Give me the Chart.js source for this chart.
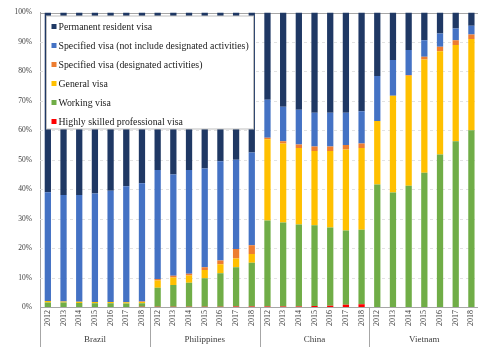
<!DOCTYPE html>
<html><head><meta charset="utf-8">
<script src="https://cdn.jsdelivr.net/npm/chart.js@4.4.1/dist/chart.umd.min.js"></script>
<style>
html,body{margin:0;padding:0;background:#fff;overflow:hidden;}
#wrap{position:relative;width:484px;height:347px;}
</style></head><body>
<div id="wrap"><canvas id="c" width="484" height="347"></canvas></div>
<script>
const groups = ['Brazil', 'Philippines', 'China', 'Vietnam'];
const years = ['2012', '2013', '2014', '2015', '2016', '2017', '2018'];
const categories = groups.flatMap(() => years);

// values in % of each bar, order: Brazil(2012-2018), Philippines, China, Vietnam
const highlySkilled = [0,0,0,0,0,0,0.1,  0.1,0.1,0.1,0.1,0.1,0.2,0.2,  0.2,0.2,0.2,0.3,0.4,0.8,0.9,  0,0,0,0,0,0,0];
const workingVisa   = [1.5,1.5,1.4,1.3,1.3,1.2,1.2,  6.4,7.4,8.1,9.7,11.4,13.3,14.8,  29.2,28.5,27.8,27.5,26.6,25.2,25.3,  41.6,38.9,41.2,45.6,51.8,56.3,60];
const generalVisa   = [0.5,0.4,0.4,0.4,0.4,0.4,0.4,  2.5,2.5,2.5,2.8,3,3,3,  27.6,26.8,26,25.2,26,27.5,27.8,  21.6,32.8,37.3,38.4,35,32.7,31];
const specDesig     = [0,0,0,0,0,0,0.2,  0.5,0.6,0.6,0.9,1.3,3.2,3,  0.5,0.8,1.2,1.5,1.5,1.5,1.5,  0,0,0.3,1,1.6,1.6,1.5];
const specOther     = [37,36.1,36.2,36.8,37.8,39.4,40.1,  37,34.4,35.2,33.5,33.7,30.3,31.5,  12.9,11.7,11.8,11.5,11.5,11,11,  15.2,12.2,8.5,5.6,4.5,4,3];
const permanent     = [61,62,62,61.5,60.5,59,58,  53.5,55,53.5,53,50.5,50,47.5,  29.6,32,33,34,34,34,33.5,  21.6,16.1,12.7,9.4,7.1,5.4,4.5];
const yTicks = [0,10,20,30,40,50,60,70,80,90,100];

const series = [
  {label:'Highly skilled professional visa', data: highlySkilled, color:'#ff0000'},
  {label:'Working visa', data: workingVisa, color:'#70ad47'},
  {label:'General visa', data: generalVisa, color:'#ffc000'},
  {label:'Specified visa (designated activities)', data: specDesig, color:'#ed7d31'},
  {label:'Specified visa (not include designated activities)', data: specOther, color:'#4472c4'},
  {label:'Permanent resident visa', data: permanent, color:'#1f3864'}
];

const FONT = '"Liberation Serif", "Times New Roman", serif';
Chart.defaults.font.family = FONT;
Chart.defaults.color = '#404040';

const overlay = {
  id: 'overlay',
  beforeDatasetsDraw(chart) {
    const {ctx, chartArea: a, scales: {y}} = chart;
    ctx.save();
    ctx.lineWidth = 1;
    yTicks.forEach(v => {
      const py = Math.round(y.getPixelForValue(v)) + 0.5;
      if (v === 0) return;
      if (v === 100) { ctx.strokeStyle = '#a6a6a6'; ctx.setLineDash([]); }
      else { ctx.strokeStyle = '#e2e2e2'; ctx.setLineDash([3, 3]); }
      ctx.beginPath(); ctx.moveTo(a.left, py); ctx.lineTo(a.right, py); ctx.stroke();
    });
    ctx.restore();
  },
  afterDatasetsDraw(chart) {
    const {ctx, chartArea: a, scales: {x}} = chart;
    const step = x.getPixelForValue(1) - x.getPixelForValue(0);
    ctx.save();
    ctx.strokeStyle = '#a6a6a6'; ctx.lineWidth = 1;
    for (let g = 0; g < groups.length; g++) {
      const px = Math.round(x.getPixelForValue(g * years.length) - step / 2) + 0.5;
      ctx.beginPath(); ctx.moveTo(px, a.bottom); ctx.lineTo(px, chart.height); ctx.stroke();
    }
    // legend box inside plot area
    const bx = a.left + 6.5, by = a.top + 3.5, bw = 207, bh = 113;
    ctx.fillStyle = '#ffffff';
    ctx.fillRect(bx, by, bw, bh);
    ctx.strokeStyle = '#bfbfbf';
    ctx.strokeRect(bx, by, bw, bh);
    const ds = chart.data.datasets.slice().reverse();
    ctx.font = '9.8px ' + FONT;
    ctx.textBaseline = 'middle';
    ds.forEach((d, i) => {
      const cy = by + 10.5 + i * 19;
      ctx.fillStyle = d.backgroundColor;
      ctx.fillRect(bx + 5, cy - 2.5, 5, 5);
      ctx.fillStyle = '#1a1a1a';
      ctx.fillText(d.label, bx + 12, cy + 0.5);
    });
    ctx.restore();
  }
};

new Chart(document.getElementById('c'), {
  type: 'bar',
  data: {
    labels: categories,
    datasets: series.map(s => ({
      label: s.label, data: s.data, backgroundColor: s.color,
      borderWidth: 0, barPercentage: 0.4, categoryPercentage: 1.0
    }))
  },
  options: {
    responsive: false,
    animation: false,
    devicePixelRatio: 1,
    layout: {padding: {left: 10, top: 9, right: 0, bottom: 0}},
    plugins: {legend: {display: false}, tooltip: {enabled: false}},
    scales: {
      x: {
        stacked: true, weight: 0,
        grid: {display: false, drawTicks: false, tickLength: 0},
        border: {display: true, color: '#a6a6a6'},
        ticks: {autoSkip: false, minRotation: 90, maxRotation: 90, padding: 3, font: {size: 8}, color: '#404040'},
        afterFit: s => { s.height = 24; }
      },
      x2: {
        type: 'category', position: 'bottom', labels: groups, offset: true, weight: 1,
        grid: {display: false, drawTicks: false, tickLength: 0}, border: {display: false},
        ticks: {padding: 3, font: {size: 9}, color: '#404040'},
        afterFit: s => { s.height = 16; }
      },
      y: {
        stacked: true, min: 0, max: 100,
        grid: {display: false, drawTicks: false, tickLength: 0},
        border: {display: true, color: '#a6a6a6'},
        ticks: {stepSize: 10, padding: 8, font: {size: 7.5}, color: '#404040', callback: v => v + '%'},
        afterFit: s => { s.width = 30; }
      }
    }
  },
  plugins: [overlay]
});
</script>
</body></html>
